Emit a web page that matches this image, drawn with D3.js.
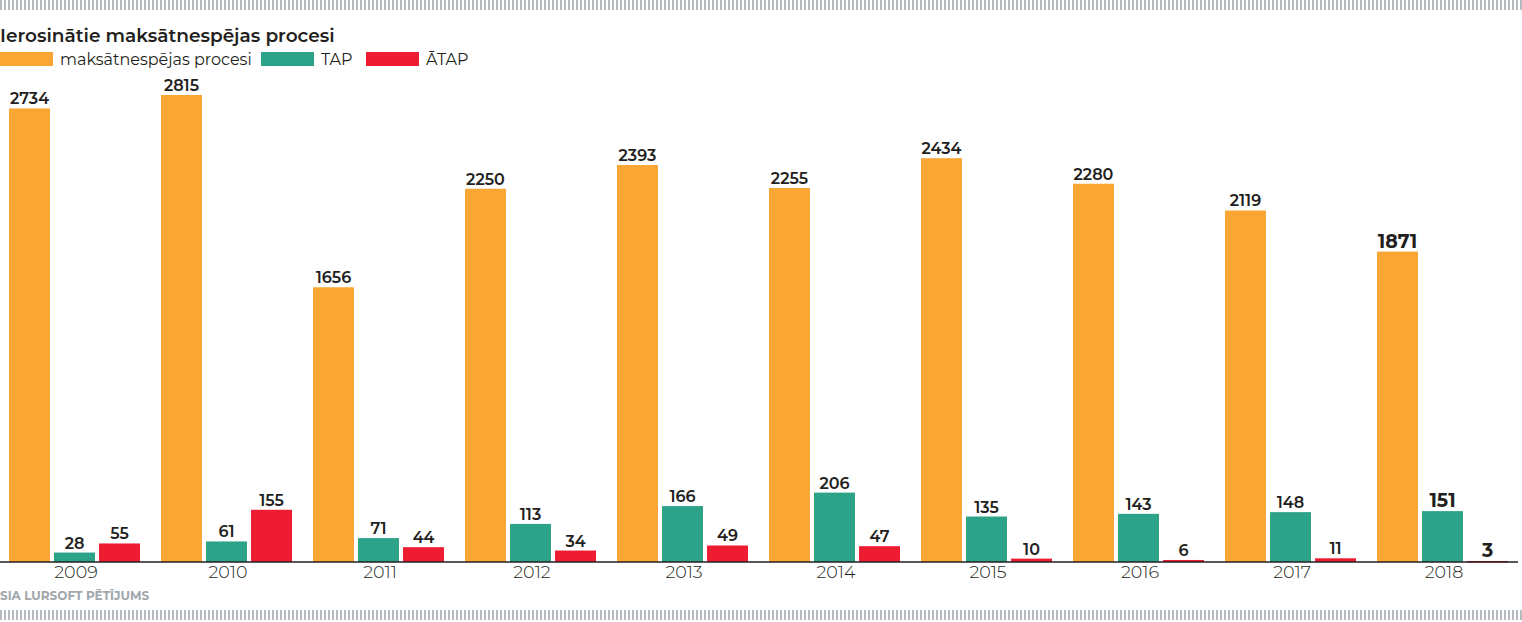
<html lang="en">
<head>
<meta charset="utf-8">
<script src="https://cdn.jsdelivr.net/npm/d3@7"></script>
<style>
body{margin:0;background:#fff;}
text{font-family:"Montserrat","Lato","Noto Sans",sans-serif;}
</style>
</head>
<body>
<div id="chart"></div>
<script>
const years=["2009","2010","2011","2012","2013","2014","2015","2016","2017","2018"]
const seriesNames=["maksātnespējas procesi","TAP","ĀTAP"]
const procesi=[2734,2815,1656,2250,2393,2255,2434,2280,2119,1871]
const tap=[28,61,71,113,166,206,135,143,148,151]
const atap=[55,155,44,34,49,47,10,6,11,3]
const colors=["#f9a635","#2ca388","#ee1c32"]

const W=1522,H=622
const svg=d3.select("#chart").append("svg").attr("width",W).attr("height",H)

// striped rules top and bottom
svg.append("line").attr("x1",0).attr("x2",W).attr("y1",5).attr("y2",5)
  .style("stroke","#b4bac0").style("stroke-width",10).style("stroke-dasharray","2,2")
svg.append("line").attr("x1",0).attr("x2",W).attr("y1",615).attr("y2",615)
  .style("stroke","#b4bac0").style("stroke-width",10).style("stroke-dasharray","2,2")

svg.append("text").attr("x",0).attr("y",42).text("Ierosinātie maksātnespējas procesi")
  .style("font-size","18.5px").style("font-weight","600").style("fill","#231f20")

// legend
const legX=[0,261,366]
seriesNames.forEach((n,i)=>{
  svg.append("rect").attr("x",legX[i]).attr("y",52).attr("width",53).attr("height",14).style("fill",colors[i])
  svg.append("text").attr("x",legX[i]+60).attr("y",65).text(n).style("font-size","16px").style("fill","#231f20")
})

const x0=d3.scaleBand().domain(years).range([-1,1519]).paddingInner(0).paddingOuter(0)
const x1=d3.scaleBand().domain([0,1,2]).range([10,141]).paddingInner(0.09)
// main series and the two small series are drawn on separate scales
const y=d3.scaleLinear().domain([0,2815]).range([562,95])
const y2=d3.scaleLinear().domain([0,1386]).range([562,95])
const ys=[y,y2,y2]

const rows=years.map((yr,i)=>({year:yr,vals:[procesi[i],tap[i],atap[i]]}))
const g=svg.append("g")
const grp=g.selectAll("g.yr").data(rows).enter().append("g").attr("transform",d=>"translate("+x0(d.year)+",0)")
grp.selectAll("rect").data(d=>d.vals.map((v,k)=>({v,k,year:d.year}))).enter().append("rect")
  .attr("x",d=>x1(d.k)).attr("width",x1.bandwidth())
  .attr("y",d=>ys[d.k](d.v)).attr("height",d=>Math.max(562-ys[d.k](d.v),1.5))
  .style("fill",d=>colors[d.k])
grp.selectAll("text.val").data(d=>d.vals.map((v,k)=>({v,k,year:d.year}))).enter().append("text")
  .attr("class","val")
  .attr("x",d=>x1(d.k)+x1.bandwidth()/2).attr("y",d=>Math.min(ys[d.k](d.v),560.5)-4)
  .attr("text-anchor","middle").text(d=>d.v)
  .style("font-size",d=>d.year=="2018"?"19px":"16px").style("font-weight",d=>d.year=="2018"?"700":"600").style("fill","#231f20")

// x axis
const ax=svg.append("g").attr("transform","translate(0,562)")
  .call(d3.axisBottom(x0).tickSize(0).tickPadding(4).tickFormat(d=>d))
ax.select(".domain").attr("d","M0,0H1518").style("stroke","#231f20").style("stroke-width",1.5)
ax.selectAll("text").attr("dx",1).style("font-size","17.5px").style("font-weight","300").style("fill","#231f20").style("font-family","Montserrat,Lato,'Noto Sans',sans-serif")

svg.append("text").attr("x",0).attr("y",600).text("SIA LURSOFT PĒTĪJUMS")
  .style("font-size","12px").style("font-weight","bold").style("fill","#a0a6ac")
</script>
</body>
</html>
